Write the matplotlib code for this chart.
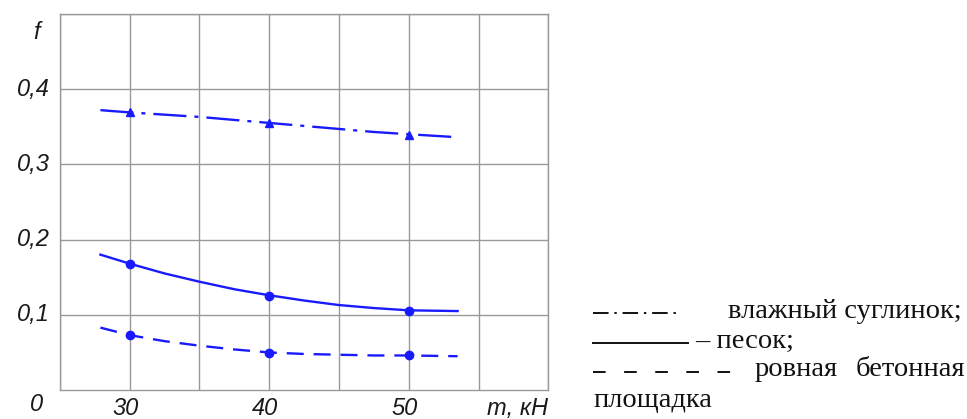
import matplotlib
matplotlib.use("Agg")
import matplotlib.pyplot as plt
from matplotlib.lines import Line2D

# readings from the picture
loads = [30, 40, 50]
clay_pts = [0.369, 0.355, 0.339]
sand_pts = [0.168, 0.125, 0.105]
concrete_pts = [0.073, 0.049, 0.046]

# fitted curves as drawn
curve_x = [27.9, 30, 32.5, 35, 37.5, 40, 42.5, 45, 47.5, 50, 53.5]
clay_curve = [0.372, 0.369, 0.366, 0.363, 0.359, 0.355, 0.351, 0.347, 0.343, 0.340, 0.336]
sand_curve = [0.180, 0.168, 0.155, 0.144, 0.134, 0.126, 0.119, 0.113, 0.109, 0.106, 0.105]
concrete_curve = [0.083, 0.073, 0.065, 0.059, 0.054, 0.050, 0.048, 0.047, 0.046, 0.046, 0.045]

x_ticks = [30, 40, 50]
y_ticks = [0.1, 0.2, 0.3, 0.4]
y_labels = ["0,1", "0,2", "0,3", "0,4"]

legend_rows = ["влажный суглинок;", "– песок;", "ровная", "бетонная", "площадка"]

blue = "#1a1aff"
grid_c = "#999999"

fig = plt.figure(figsize=(9.67, 4.19), dpi=100)
ax = fig.add_axes([0.062, 0.069, 0.505, 0.898])

ax.set_xlim(25, 60)
ax.set_ylim(0, 0.5)
ax.set_xticks(range(25, 61, 5))
ax.set_yticks([0.1, 0.2, 0.3, 0.4, 0.5])
ax.grid(True, color=grid_c, lw=1.0)
for s in ax.spines.values():
    s.set_color(grid_c)
    s.set_linewidth(1.0)
ax.tick_params(length=0, labelbottom=False, labelleft=False)

ax.plot(curve_x, clay_curve, color=blue, lw=1.7, dashes=[14, 3.4, 1.7, 3.4])
ax.plot(loads, clay_pts, ls="none", marker="^", ms=6, color=blue)
ax.plot(curve_x, sand_curve, color=blue, lw=1.7)
ax.plot(loads, sand_pts, ls="none", marker="o", ms=6, color=blue)
ax.plot(curve_x, concrete_curve, color=blue, lw=1.7, dashes=[7.2, 4.2])
ax.plot(loads, concrete_pts, ls="none", marker="o", ms=6, color=blue)

tick_font = dict(family="Liberation Sans", style="italic", fontsize=17, color="#1a1a1a")
for y, lab in zip(y_ticks, y_labels):
    ax.text(24.3, y, lab, ha="right", va="center", **tick_font)
ax.text(23.3, -0.019, "0", ha="center", va="center", **tick_font)
ax.text(23.3, 0.475, "f", ha="center", va="center", **tick_font)
for x in x_ticks:
    ax.text(x - 0.3, -0.024, str(x), ha="center", va="center", **tick_font)
ax.text(60.0, -0.024, "m, кН", ha="right", va="center", **tick_font)

# legend drawn as text block on the right
W, H = 967.0, 419.0
def fx(px):
    return px / W
def fy(py):
    return 1 - py / H

serif = dict(family="Liberation Serif", fontsize=20.5, color="#111111")
fig.add_artist(Line2D([fx(593), fx(680)], [fy(313), fy(313)], color="#111111", lw=1.4,
                      dashes=[8, 3, 1.2, 3]))
fig.add_artist(Line2D([fx(593), fx(688)], [fy(343), fy(343)], color="#111111", lw=1.4))
fig.add_artist(Line2D([fx(593), fx(735)], [fy(372), fy(372)], color="#111111", lw=1.4,
                      dashes=[6.5, 9.5]))
fig.text(fx(728), fy(311), legend_rows[0], ha="left", va="center", **serif)
fig.text(fx(695), fy(341), legend_rows[1], ha="left", va="center", **serif)
fig.text(fx(755), fy(369), legend_rows[2], ha="left", va="center", **serif)
fig.text(fx(965), fy(369), legend_rows[3], ha="right", va="center", **serif)
fig.text(fx(593), fy(400), legend_rows[4], ha="left", va="center", **serif)

fig.savefig("out.png", dpi=100)
